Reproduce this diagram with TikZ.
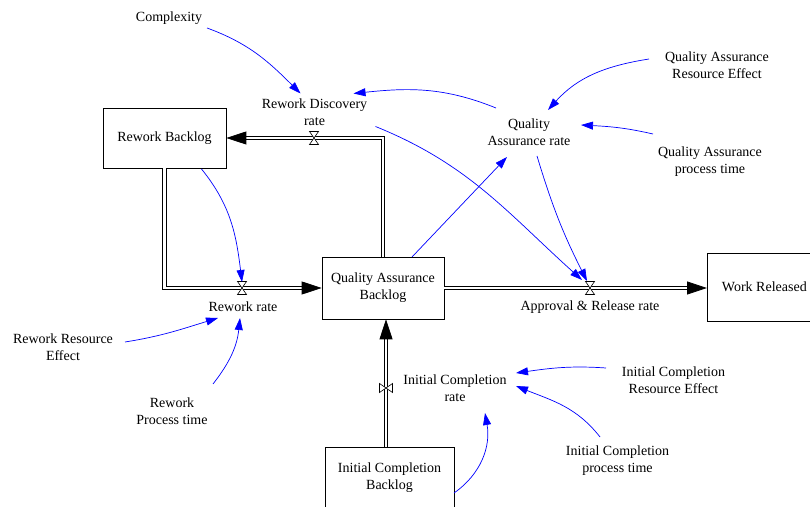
\documentclass[tikz,border=0pt]{standalone}
\usepackage{fontspec}
\setmainfont{Liberation Serif}
\usetikzlibrary{arrows.meta}
\begin{document}
\begin{tikzpicture}[x=1pt,y=1pt,
    font=\fontsize{14}{17}\selectfont,
    stock/.style={draw,line width=0.7pt,align=center,inner sep=0pt},
    aux/.style={align=center,inner sep=1pt},
    pipe/.style={double,line width=0.8pt,double distance=2.6pt,-{Triangle[length=20pt,width=13pt]}},
    infl/.style={blue,line width=0.7pt,-{Triangle[length=12pt,width=8pt]}}]
  \useasboundingbox (0,0) rectangle (810,506);

  % stocks
  \node[stock,minimum width=123,minimum height=60] (rb) at (164.5,368) {Rework Backlog};
  \node[stock,minimum width=122,minimum height=62] (qab) at (383,218) {Quality Assurance\\Backlog};
  \node[stock,minimum width=114,minimum height=68,anchor=west] (wr) at (707,219) {Work Released};
  \node[stock,minimum width=129,minimum height=62] (icb) at (389.5,28) {Initial Completion\\Backlog};

  % valves
  \coordinate (rdv) at (314,368);
  \coordinate (rwv) at (242,218);
  \coordinate (arv) at (590,218);
  \coordinate (icv) at (386,118);

  % flow labels
  \node[aux] (rdr) at (314.5,393.5) {Rework Discovery\\rate};
  \node[aux] (rwr) at (243,199) {Rework rate};
  \node[aux] (arr) at (590,199) {Approval \& Release rate};
  \node[aux] (icr) at (455,117.5) {Initial Completion\\rate};

  % auxiliaries
  \node[aux] (cx) at (169,488) {Complexity};
  \node[aux] (qar) at (529,373.5) {Quality\\Assurance rate};
  \node[aux] (qare) at (717,441) {Quality Assurance\\Resource Effect};
  \node[aux] (qapt) at (710,344) {Quality Assurance\\process time};
  \node[aux] (rwre) at (63,158.5) {Rework Resource\\Effect};
  \node[aux] (rwpt) at (172,95) {Rework\\Process time};
  \node[aux] (icre) at (673.5,125.5) {Initial Completion\\Resource Effect};
  \node[aux] (icpt) at (617.5,45) {Initial Completion\\process time};

  % flows
  \draw[pipe] (qab.north) |- (rb.east);
  \draw[pipe] (rb.south) |- (qab.west);
  \draw[pipe] (qab.east) -- (qab.east -| wr.west);
  \draw[pipe] (icv |- icb.north) -- (icv |- qab.south);

  \foreach \v/\r in {rdv/0,rwv/0,arv/0,icv/90}{
    \draw[line width=0.6pt,fill=white,shift={(\v)},rotate=\r] (-4.5,6.5) -- (4.5,6.5) -- (-4.5,-6.5) -- (4.5,-6.5) -- cycle;
  }

  % influences
  \draw[infl] ([shift={(38,-10)}]cx.center) to[out=-20,in=135] ([shift={(-14,19)}]rdr.center);
  \draw[infl] ([shift={(-33,24.5)}]qar.center) to[out=158,in=6] ([shift={(39,19)}]rdr.center);
  \draw[infl] ([shift={(-68,6)}]qare.center) to[out=189,in=48] ([shift={(19,22.5)}]qar.center);
  \draw[infl] ([shift={(-57,28)}]qapt.center) to[out=167,in=-3] ([shift={(52,7.5)}]qar.center);
  \draw[infl] ([shift={(8,-23.5)}]qar.center) to[bend right=5] ([shift={(-3,7)}]arv);
  \draw[infl] ([shift={(61,-14)}]rdr.center) to[out=-22,in=138] ([shift={(-8,8)}]arv);
  \draw[infl] ([shift={(29,31)}]qab.center) -- ([shift={(-22,-24.5)}]qar.center);
  \draw[infl] ([shift={(37,-31)}]rb.center) to[out=-51,in=97] ([shift={(0,6)}]rwv);
  \draw[infl] ([shift={(62,5.5)}]rwre.center) to[out=9,in=197] ([shift={(-25,-11)}]rwr.center);
  \draw[infl] ([shift={(41,27)}]rwpt.center) to[out=52,in=-96] ([shift={(-3,-11)}]rwr.center);
  \draw[infl] ([shift={(-67.5,12.5)}]icre.center) to[out=176,in=8] ([shift={(61,15.5)}]icr.center);
  \draw[infl] ([shift={(-17.5,24)}]icpt.center) to[out=128,in=-22] ([shift={(61,2.5)}]icr.center);
  \draw[infl] ([shift={(64.5,-15)}]icb.center) to[out=35,in=-80] ([shift={(30,-24.5)}]icr.center);
\end{tikzpicture}
\end{document}
